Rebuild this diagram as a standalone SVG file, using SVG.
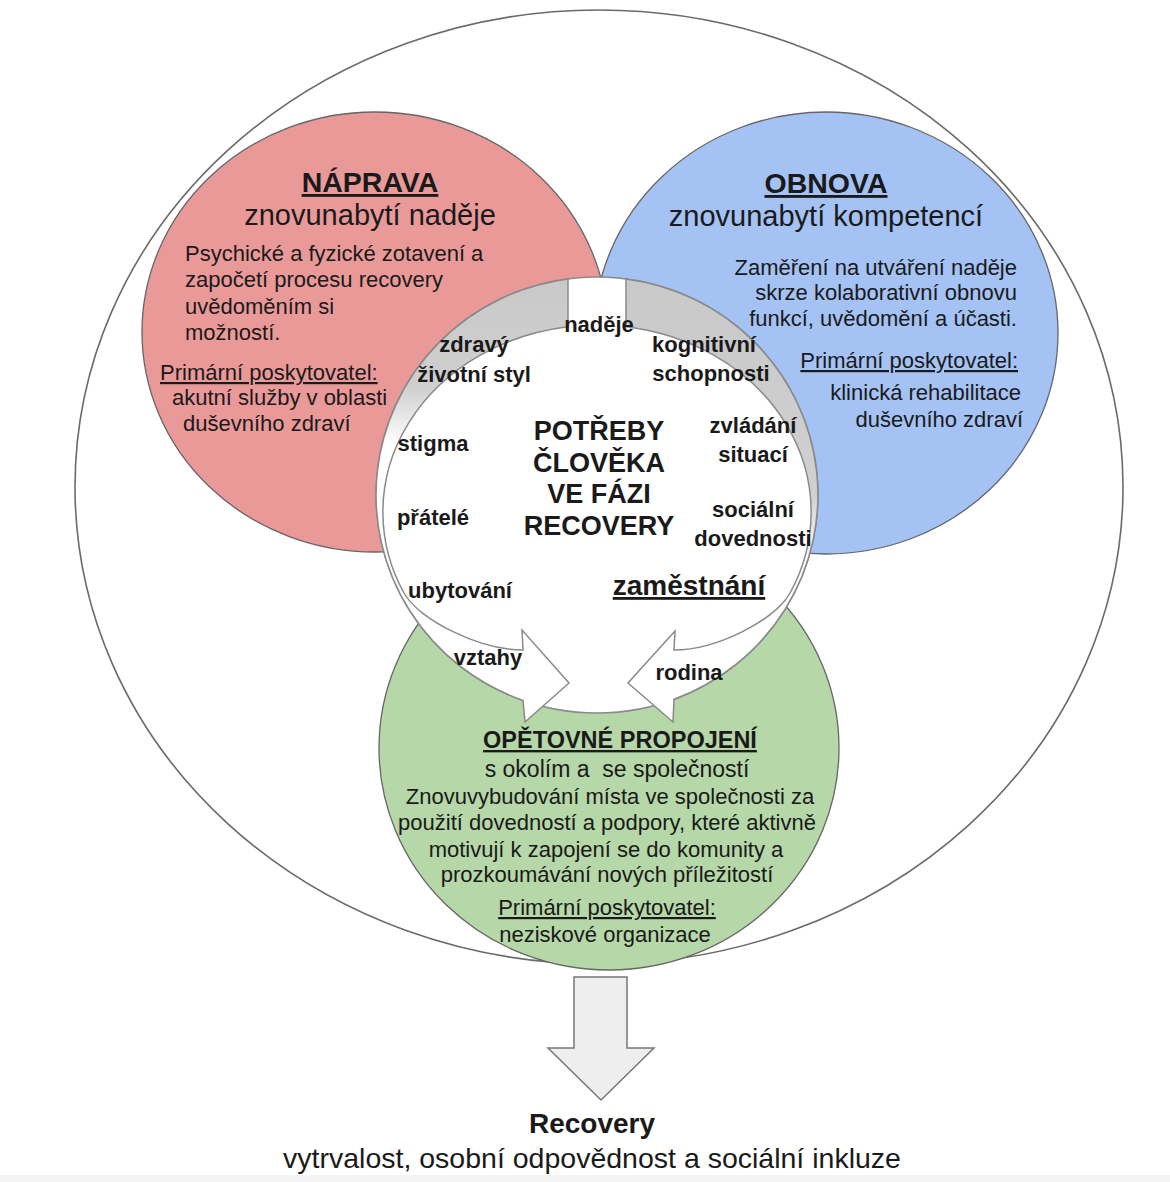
<svg xmlns="http://www.w3.org/2000/svg" width="1170" height="1182" viewBox="0 0 1170 1182">
<defs>
<style>
.t{font-family:"Liberation Sans",Arial,Helvetica,sans-serif;fill:#1a1a1a}
.title{font-size:28.5px;font-weight:bold;text-decoration:underline}
.sub{font-size:29px}
.body{font-size:22px}
.u{text-decoration:underline}
.lbl{font-size:22px;font-weight:bold}
.hd{font-size:27px;font-weight:bold}
.circ{stroke:#666;stroke-width:1.3}
.ring{stroke:#8a8a8a;stroke-width:1.5}
</style>
<linearGradient id="gL" gradientUnits="userSpaceOnUse" x1="0" y1="280" x2="0" y2="445">
<stop offset="0" stop-color="#c9c9c9"/>
<stop offset="0.65" stop-color="#cfcfcf"/>
<stop offset="1" stop-color="#ffffff"/>
</linearGradient>
<linearGradient id="gR" gradientUnits="userSpaceOnUse" x1="0" y1="280" x2="0" y2="565">
<stop offset="0" stop-color="#c9c9c9"/>
<stop offset="0.75" stop-color="#d0d0d0"/>
<stop offset="1" stop-color="#ffffff"/>
</linearGradient>
</defs>
<rect x="0" y="0" width="1170" height="1182" fill="#ffffff"/>
<rect x="0" y="1175" width="1170" height="7" fill="#f3f3f3"/>

<g id="outer">
<ellipse cx="599" cy="487" rx="524" ry="477" fill="none" stroke="#6a6a6a" stroke-width="1.6"/>
</g>

<g id="naprava">
<ellipse class="circ" cx="375" cy="332" rx="233" ry="220" fill="#ea9999"/>
<text class="t title" x="370" y="192" text-anchor="middle">NÁPRAVA</text>
<text class="t sub" x="370" y="225" text-anchor="middle">znovunabytí naděje</text>
<text class="t body" x="185" y="261">Psychické a fyzické zotavení a</text>
<text class="t body" x="185" y="287">započetí procesu recovery</text>
<text class="t body" x="185" y="314">uvědoměním si</text>
<text class="t body" x="185" y="340">možností.</text>
<text class="t body u" x="160" y="380">Primární poskytovatel:</text>
<text class="t body" x="172" y="405">akutní služby v oblasti</text>
<text class="t body" x="183" y="431">duševního zdraví</text>
</g>

<g id="obnova">
<ellipse class="circ" cx="826" cy="333" rx="232" ry="221" fill="#a4c2f4"/>
<text class="t title" x="826" y="193" text-anchor="middle">OBNOVA</text>
<text class="t sub" x="826" y="226" text-anchor="middle">znovunabytí kompetencí</text>
<text class="t body" x="1017" y="275" text-anchor="end">Zaměření na utváření naděje</text>
<text class="t body" x="1017" y="300" text-anchor="end">skrze kolaborativní obnovu</text>
<text class="t body" x="1017" y="326" text-anchor="end">funkcí, uvědomění a účasti.</text>
<text class="t body u" x="1018" y="368" text-anchor="end">Primární poskytovatel:</text>
<text class="t body" x="1021" y="400" text-anchor="end">klinická rehabilitace</text>
<text class="t body" x="1023" y="427" text-anchor="end">duševního zdraví</text>
</g>

<g id="propojeni">
<ellipse class="circ" cx="609" cy="748" rx="230" ry="222" fill="#b6d7a8"/>
<text class="t" x="620" y="748" text-anchor="middle" style="font-size:23.5px;font-weight:bold;text-decoration:underline">OPĚTOVNÉ PROPOJENÍ</text>
<text class="t" x="617" y="777" text-anchor="middle" style="font-size:23px;white-space:pre">s okolím a  se společností</text>
<text class="t body" x="610" y="804" text-anchor="middle">Znovuvybudování místa ve společnosti za</text>
<text class="t body" x="607" y="830" text-anchor="middle">použití dovedností a podpory, které aktivně</text>
<text class="t body" x="606" y="857" text-anchor="middle">motivují k zapojení se do komunity a</text>
<text class="t body" x="607" y="882" text-anchor="middle">prozkoumávání nových příležitostí</text>
<text class="t body u" x="607" y="915" text-anchor="middle">Primární poskytovatel:</text>
<text class="t body" x="605" y="942" text-anchor="middle">neziskové organizace</text>
</g>

<g id="potreby">
<ellipse class="ring" cx="597" cy="495" rx="221" ry="218" fill="#ffffff"/>
</g>

<g id="connectors">
<path class="ring" fill="url(#gL)" d="M568,278.9 A221,218 0 0 0 523,700.4 L525,722 L569,683 L522,630 L523,650 C480,650 419,620 404,593 A214,187 0 0 1 568,326.7 Z"/>
<path class="ring" fill="url(#gR)" d="M626,278.9 A221,218 0 0 1 674,699.3 L673,722 L628,683 L675,631 L674,650 C717,650 775,620 790,593 A214,187 0 0 0 626,326.7 Z"/>
<path d="M574,977 L627,977 L627,1048 L654,1048 L601,1100 L548,1048 L574,1048 Z" fill="#eeeeee" stroke="#777" stroke-width="1.5"/>
</g>

<g id="needs">
<text class="t hd" x="599" y="440" text-anchor="middle">POTŘEBY</text>
<text class="t hd" x="599" y="472" text-anchor="middle">ČLOVĚKA</text>
<text class="t hd" x="599" y="503" text-anchor="middle">VE FÁZI</text>
<text class="t hd" x="599" y="535" text-anchor="middle">RECOVERY</text>
<text class="t lbl" x="599" y="332" text-anchor="middle">naděje</text>
<text class="t lbl" x="474" y="352" text-anchor="middle">zdravý</text>
<text class="t lbl" x="474" y="382" text-anchor="middle">životní styl</text>
<text class="t lbl" x="704" y="352" text-anchor="middle">kognitivní</text>
<text class="t lbl" x="711" y="381" text-anchor="middle">schopnosti</text>
<text class="t lbl" x="433" y="451" text-anchor="middle">stigma</text>
<text class="t lbl" x="753" y="433" text-anchor="middle">zvládání</text>
<text class="t lbl" x="753" y="462" text-anchor="middle">situací</text>
<text class="t lbl" x="433" y="525" text-anchor="middle">přátelé</text>
<text class="t lbl" x="753" y="517" text-anchor="middle">sociální</text>
<text class="t lbl" x="753" y="546" text-anchor="middle">dovednosti</text>
<text class="t lbl" x="460" y="598" text-anchor="middle">ubytování</text>
<text class="t" x="689" y="595" text-anchor="middle" style="font-size:28px;font-weight:bold;text-decoration:underline">zaměstnání</text>
<text class="t lbl" x="488" y="665" text-anchor="middle">vztahy</text>
<text class="t lbl" x="689" y="680" text-anchor="middle">rodina</text>
</g>

<g id="recovery">
<text class="t" x="592" y="1133" text-anchor="middle" style="font-size:28px;font-weight:bold">Recovery</text>
<text class="t" x="592" y="1168" text-anchor="middle" style="font-size:28.5px">vytrvalost, osobní odpovědnost a sociální inkluze</text>
</g>
</svg>
